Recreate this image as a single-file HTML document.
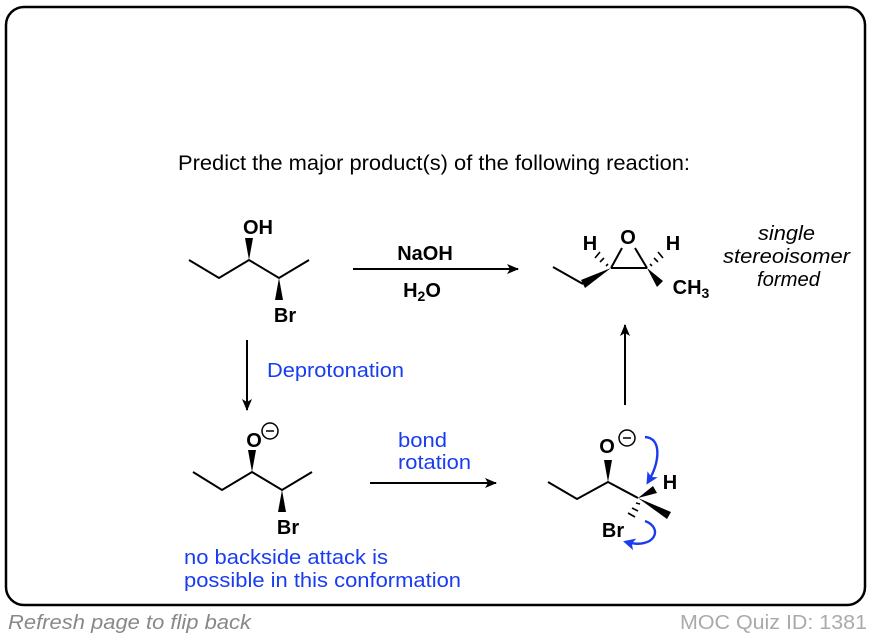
<!DOCTYPE html>
<html><head><style>
body{margin:0;width:872px;height:638px;background:#fff;overflow:hidden;font-family:"Liberation Sans",Arial,sans-serif}
</style></head><body>
<svg width="872" height="638" viewBox="0 0 872 638" xmlns="http://www.w3.org/2000/svg" font-family="Liberation Sans, Arial, sans-serif">
<defs><marker id="ah" markerWidth="12" markerHeight="10" refX="11" refY="5" orient="auto" markerUnits="userSpaceOnUse"><path d="M0,0 L12,5 L0,10 L3,5 Z" fill="#000"/></marker>
<marker id="bh" markerWidth="12" markerHeight="12" refX="9" refY="6" orient="auto" markerUnits="userSpaceOnUse"><path d="M0,0 L12,6 L0,12 L3,6 Z" fill="#1a3cf0"/></marker></defs>
<rect x="6" y="7" width="859" height="598" rx="18" fill="none" stroke="#000" stroke-width="2.5"/>
<text x="178" y="170" font-size="21" textLength="512" lengthAdjust="spacingAndGlyphs">Predict the major product(s) of the following reaction:</text>
<g stroke="#000" stroke-width="2" fill="none">
<polyline points="189,260 219,278 249,260 279,278 309,260"/>
<polyline points="193,472 222,490 252,472 282,490 312,472"/>
<polyline points="553,267 583,284"/>
<line x1="611" y1="268" x2="647" y2="268"/>
<line x1="611" y1="268" x2="622" y2="248"/><line x1="647" y1="268" x2="635" y2="248"/>
<polyline points="548,482 577,499 608,482 638,498"/>
<line x1="353" y1="269" x2="518" y2="269" marker-end="url(#ah)"/>
<line x1="247" y1="340" x2="247" y2="410" marker-end="url(#ah)"/>
<line x1="370" y1="483" x2="496" y2="483" marker-end="url(#ah)"/>
<line x1="625" y1="405" x2="625" y2="325" marker-end="url(#ah)"/>
</g>
<g fill="#000">
<polygon points="249,260 245,238 253,238"/>
<polygon points="279,278 275,300 283,300"/>
<polygon points="252,472 248,450 256,450"/>
<polygon points="282,490 278,512 286,512"/>
<polygon points="611,268 585,288 581,280"/>
<polygon points="647,268 657,287 663,281"/>
<polygon points="608,482 604,460 612,460"/>
<polygon points="638,498 667,519 671,512"/>
<polygon points="638,498 653,486 657,493"/>
</g>
<g stroke="#000" stroke-width="1.6">
<line x1="608" y1="264" x2="606" y2="266"/><line x1="604" y1="258" x2="600" y2="262"/><line x1="600" y1="252" x2="595" y2="258"/>
<line x1="650" y1="264" x2="652" y2="266"/><line x1="654" y1="258" x2="658" y2="262"/><line x1="658" y1="252" x2="663" y2="258"/>
<line x1="636" y1="503" x2="640" y2="504"/><line x1="632" y1="508" x2="638" y2="511"/><line x1="628" y1="513" x2="635" y2="517"/>
</g>
<g font-weight="bold" font-size="20" text-anchor="middle">
<text x="258" y="234">OH</text>
<text x="285" y="322">Br</text>
<text x="254" y="447">O</text>
<text x="288" y="534">Br</text>
<text x="628" y="244">O</text>
<text x="590" y="250">H</text>
<text x="673" y="250">H</text>
<text x="691" y="294">CH<tspan font-size="14" dy="4">3</tspan></text>
<text x="607" y="453">O</text>
<text x="670" y="489">H</text>
<text x="613" y="537">Br</text>
<text x="425" y="260">NaOH</text>
<text x="422" y="297">H<tspan font-size="14" dy="4">2</tspan><tspan dy="-4">O</tspan></text>
</g>
<g fill="none" stroke="#000" stroke-width="1.5">
<circle cx="270" cy="431" r="8"/><line x1="266" y1="431" x2="274" y2="431"/>
<circle cx="627" cy="438" r="8"/><line x1="623" y1="438" x2="631" y2="438"/>
</g>
<g font-style="italic" font-size="20">
<text x="758" y="240" textLength="57" lengthAdjust="spacingAndGlyphs">single</text><text x="723" y="263" textLength="127" lengthAdjust="spacingAndGlyphs">stereoisomer</text><text x="757" y="286" textLength="63" lengthAdjust="spacingAndGlyphs">formed</text>
</g>
<g fill="#1a3cf0" font-size="20">
<text x="267" y="377" textLength="137" lengthAdjust="spacingAndGlyphs">Deprotonation</text>
<text x="398" y="447" textLength="49" lengthAdjust="spacingAndGlyphs">bond</text><text x="398" y="469" textLength="73" lengthAdjust="spacingAndGlyphs">rotation</text>
<text x="184" y="564" textLength="204" lengthAdjust="spacingAndGlyphs">no backside attack is</text><text x="184" y="587" textLength="277" lengthAdjust="spacingAndGlyphs">possible in this conformation</text>
</g>
<g fill="none" stroke="#1a3cf0" stroke-width="2.4">
<path d="M645,437 C662,438 660,462 648,482" marker-end="url(#bh)"/>
<path d="M645,521 C664,528 655,550 626,542" marker-end="url(#bh)"/>
</g>
<text x="8" y="629" font-size="20" font-style="italic" fill="#888" textLength="243" lengthAdjust="spacingAndGlyphs">Refresh page to flip back</text>
<text x="680" y="629" font-size="20" fill="#aaa" textLength="187" lengthAdjust="spacingAndGlyphs">MOC Quiz ID: 1381</text>
</svg>
</body></html>
